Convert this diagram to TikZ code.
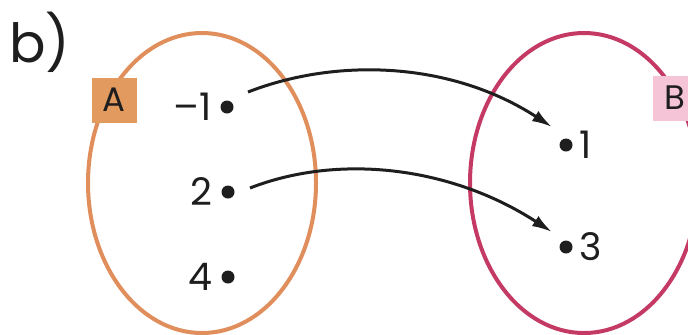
\documentclass[tikz,border=0pt]{standalone}
\usepackage{fontspec}
\setmainfont{Poppins}
\usetikzlibrary{arrows.meta,calc,positioning,shapes.geometric}
\definecolor{Ink}{HTML}{1E1E1E}
\definecolor{Peach}{HTML}{E08E5C}
\definecolor{PeachFill}{HTML}{E29A5E}
\definecolor{Rose}{HTML}{C43A64}
\definecolor{RoseFill}{HTML}{F5C4D7}
\tikzset{setring/.style={ellipse,line width=2pt,minimum width=114pt,minimum height=150pt,inner sep=0pt},tag/.style={minimum size=22.5pt,inner sep=0pt,text=Ink,font=\fontsize{17}{20}\selectfont},elem/.style={circle,fill=Ink,minimum size=6.5pt,inner sep=0pt},num/.style={inner sep=0pt,text=Ink,font=\fontsize{19}{22}\selectfont},maps/.style={-{Latex[length=10pt,width=6pt]},line width=1.5pt,draw=Ink}}
\begin{document}
\begin{tikzpicture}[x=.5pt,y=-.5pt]
        \useasboundingbox(0,0)rectangle(688,334);
        \node[num,font=\fontsize{27}{30}\selectfont](part)at(40,42){b)};
        \node[setring,draw=Peach](setA)at(202,183){};
        \node[setring,draw=Rose](setB)at(584,183){};
        \node[tag,fill=PeachFill](tagA)at(114,100){A};
        \node[tag,fill=RoseFill](tagB)at(675,98){B};
        \node[elem](a1)at(227,107){};
        \node[elem](a2)at(228,192){};
        \node[elem](a4)at(228,277){};
        \node[elem](b1)at(566,145){};
        \node[elem](b3)at(566,247){};
        \node[num,left=4pt of a1]{–1};
        \node[num,left=4pt of a2]{2};
        \node[num,left=4pt of a4]{4};
        \node[num,right=3pt of b1]{1};
        \node[num,right=3pt of b3]{3};
        \draw[maps]([shift={(21,-15)}]a1.center)..controls+(90,-35)and+(-100,-65)..([shift={(-14,-18)}]b1.center);
        \draw[maps]([shift={(22,-4)}]a2.center)..controls+(90,-35)and+(-100,-65)..([shift={(-14,-15)}]b3.center);
      \end{tikzpicture}
\end{document}
